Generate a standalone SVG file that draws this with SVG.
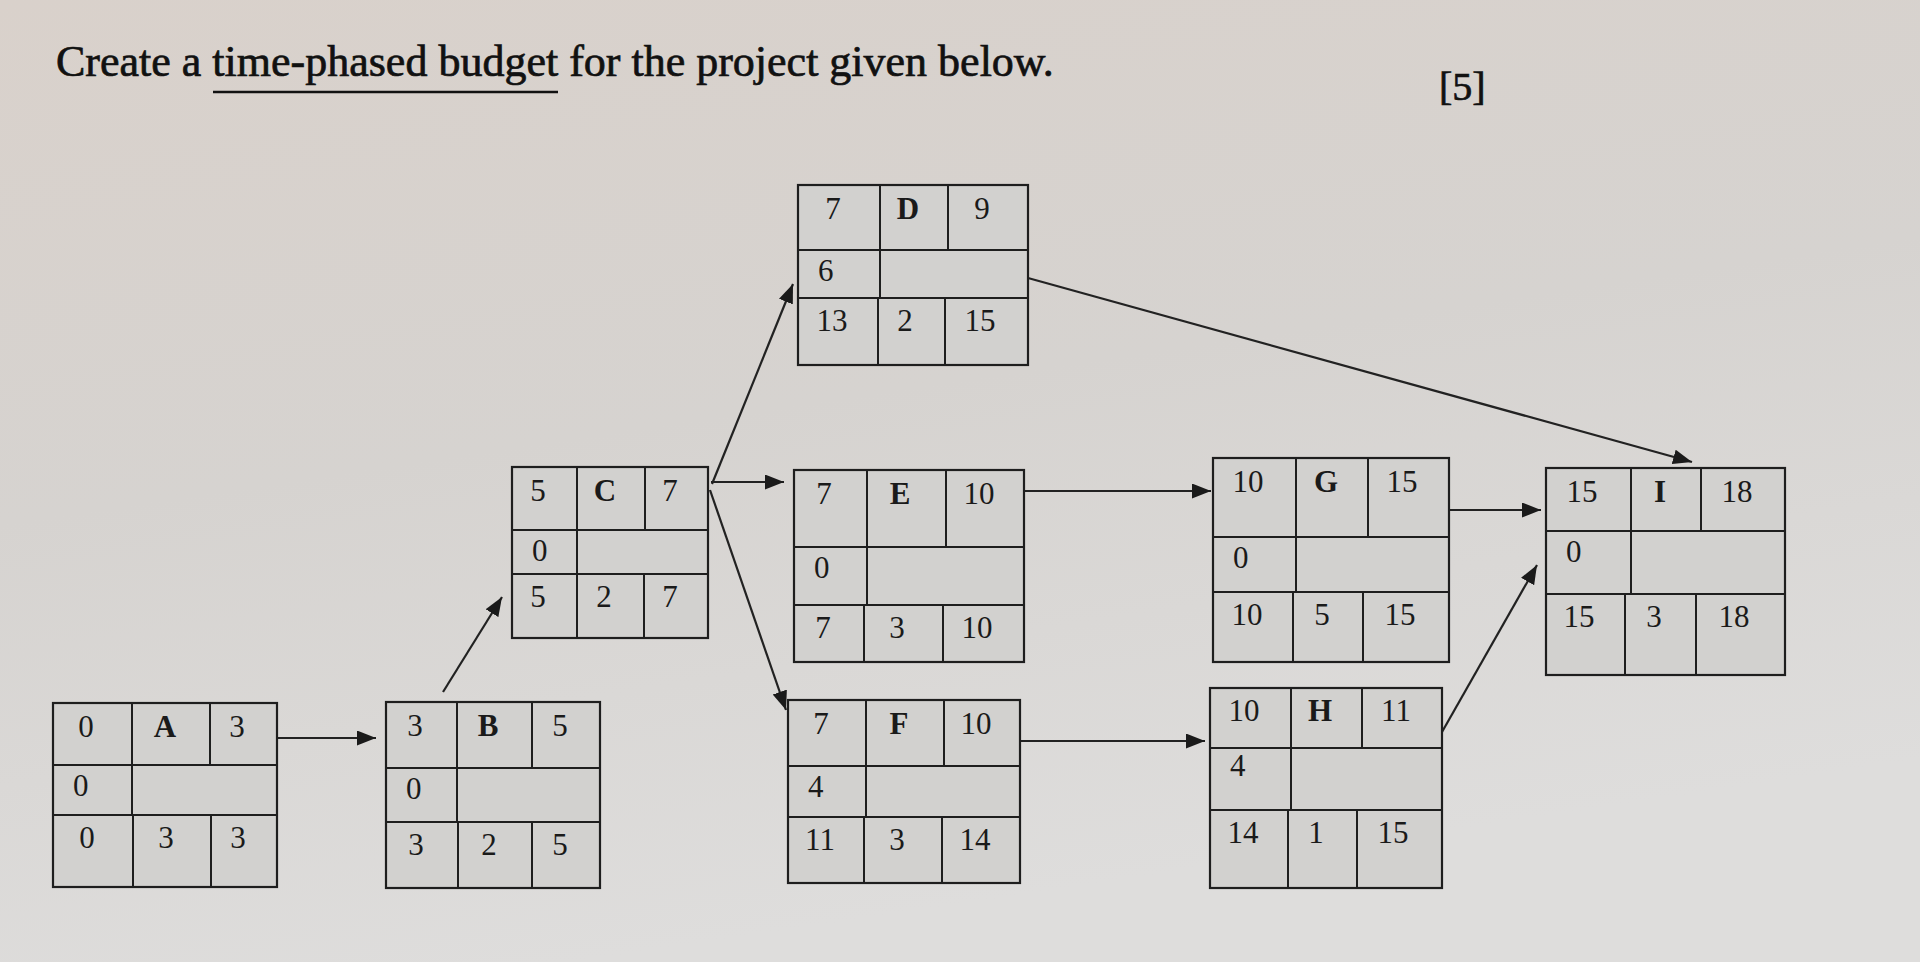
<svg xmlns="http://www.w3.org/2000/svg" width="1920" height="962" viewBox="0 0 1920 962">
<defs>
<linearGradient id="bg" x1="0" y1="0" x2="0.3" y2="1">
<stop offset="0" stop-color="#d9d1cb"/>
<stop offset="0.5" stop-color="#d6d3d0"/>
<stop offset="1" stop-color="#dedddc"/>
</linearGradient>
<marker id="ah" markerUnits="userSpaceOnUse" markerWidth="22" markerHeight="16" refX="19" refY="7.5" orient="auto">
<path d="M0,0 L19,7.5 L0,15 Z" fill="#1a1a1a"/>
</marker>
<style>
.box rect{fill:#d2d1cf;stroke:#1e1e1e;stroke-width:2.2}
.box line{stroke:#1e1e1e;stroke-width:2}
.box text{font-family:"Liberation Serif","Times New Roman",serif;font-size:31px;fill:#1a1a1a;text-anchor:middle}
.box text.l{text-anchor:start}
.box text.n{font-weight:bold}
.conn line{stroke:#222;stroke-width:2.2;marker-end:url(#ah)}
.title{font-family:"Liberation Serif","Times New Roman",serif;fill:#111;stroke:#111;stroke-width:0.7}
</style>
</defs>
<rect width="1920" height="962" fill="url(#bg)"/>
<g id="title">
<text class="title" x="56" y="76" font-size="44">Create a time-phased budget for the project given below.</text>
<line x1="213" y1="92" x2="558" y2="92" stroke="#111" stroke-width="2.5"/>
<text class="title" x="1439" y="100" font-size="40">[5]</text>
</g>
<g id="connectors" class="conn">
<line x1="277" y1="738" x2="376" y2="738"/>
<line x1="443" y1="692" x2="502" y2="597"/>
<line x1="712" y1="484" x2="793" y2="284"/>
<line x1="711" y1="482" x2="784" y2="482"/>
<line x1="710" y1="490" x2="786" y2="710"/>
<line x1="1028" y1="278" x2="1692" y2="462"/>
<line x1="1024" y1="491" x2="1211" y2="491"/>
<line x1="1020" y1="741" x2="1205" y2="741"/>
<line x1="1449" y1="510" x2="1541" y2="510"/>
<line x1="1442" y1="732" x2="1537" y2="565"/>
</g>
<g id="node-A" class="box">
<rect x="53" y="703" width="224" height="184"/>
<line x1="53" y1="765" x2="277" y2="765"/><line x1="53" y1="815" x2="277" y2="815"/>
<line x1="132" y1="703" x2="132" y2="815"/><line x1="210" y1="703" x2="210" y2="765"/>
<line x1="133" y1="815" x2="133" y2="887"/><line x1="211" y1="815" x2="211" y2="887"/>
<text x="86" y="737">0</text><text class="n" x="165" y="737">A</text><text x="237" y="737">3</text>
<text class="l" x="73" y="796">0</text>
<text x="87" y="848">0</text><text x="166" y="848">3</text><text x="238" y="848">3</text>
</g>
<g id="node-B" class="box">
<rect x="386" y="702" width="214" height="186"/>
<line x1="386" y1="768" x2="600" y2="768"/><line x1="386" y1="822" x2="600" y2="822"/>
<line x1="457" y1="702" x2="457" y2="822"/><line x1="532" y1="702" x2="532" y2="768"/>
<line x1="458" y1="822" x2="458" y2="888"/><line x1="532" y1="822" x2="532" y2="888"/>
<text x="415" y="736">3</text><text class="n" x="488" y="736">B</text><text x="560" y="736">5</text>
<text class="l" x="406" y="799">0</text>
<text x="416" y="855">3</text><text x="489" y="855">2</text><text x="560" y="855">5</text>
</g>
<g id="node-C" class="box">
<rect x="512" y="467" width="196" height="171"/>
<line x1="512" y1="530" x2="708" y2="530"/><line x1="512" y1="574" x2="708" y2="574"/>
<line x1="577" y1="467" x2="577" y2="574"/><line x1="645" y1="467" x2="645" y2="530"/>
<line x1="577" y1="574" x2="577" y2="638"/><line x1="644" y1="574" x2="644" y2="638"/>
<text x="538" y="501">5</text><text class="n" x="605" y="501">C</text><text x="670" y="501">7</text>
<text class="l" x="532" y="561">0</text>
<text x="538" y="607">5</text><text x="604" y="607">2</text><text x="670" y="607">7</text>
</g>
<g id="node-D" class="box">
<rect x="798" y="185" width="230" height="180"/>
<line x1="798" y1="250" x2="1028" y2="250"/><line x1="798" y1="298" x2="1028" y2="298"/>
<line x1="880" y1="185" x2="880" y2="298"/><line x1="948" y1="185" x2="948" y2="250"/>
<line x1="878" y1="298" x2="878" y2="365"/><line x1="945" y1="298" x2="945" y2="365"/>
<text x="833" y="219">7</text><text class="n" x="908" y="219">D</text><text x="982" y="219">9</text>
<text class="l" x="818" y="281">6</text>
<text x="832" y="331">13</text><text x="905" y="331">2</text><text x="980" y="331">15</text>
</g>
<g id="node-E" class="box">
<rect x="794" y="470" width="230" height="192"/>
<line x1="794" y1="547" x2="1024" y2="547"/><line x1="794" y1="605" x2="1024" y2="605"/>
<line x1="867" y1="470" x2="867" y2="605"/><line x1="946" y1="470" x2="946" y2="547"/>
<line x1="864" y1="605" x2="864" y2="662"/><line x1="943" y1="605" x2="943" y2="662"/>
<text x="824" y="504">7</text><text class="n" x="900" y="504">E</text><text x="979" y="504">10</text>
<text class="l" x="814" y="578">0</text>
<text x="823" y="638">7</text><text x="897" y="638">3</text><text x="977" y="638">10</text>
</g>
<g id="node-F" class="box">
<rect x="788" y="700" width="232" height="183"/>
<line x1="788" y1="766" x2="1020" y2="766"/><line x1="788" y1="817" x2="1020" y2="817"/>
<line x1="866" y1="700" x2="866" y2="817"/><line x1="944" y1="700" x2="944" y2="766"/>
<line x1="864" y1="817" x2="864" y2="883"/><line x1="942" y1="817" x2="942" y2="883"/>
<text x="821" y="734">7</text><text class="n" x="899" y="734">F</text><text x="976" y="734">10</text>
<text class="l" x="808" y="797">4</text>
<text x="820" y="850">11</text><text x="897" y="850">3</text><text x="975" y="850">14</text>
</g>
<g id="node-G" class="box">
<rect x="1213" y="458" width="236" height="204"/>
<line x1="1213" y1="537" x2="1449" y2="537"/><line x1="1213" y1="592" x2="1449" y2="592"/>
<line x1="1296" y1="458" x2="1296" y2="592"/><line x1="1368" y1="458" x2="1368" y2="537"/>
<line x1="1293" y1="592" x2="1293" y2="662"/><line x1="1363" y1="592" x2="1363" y2="662"/>
<text x="1248" y="492">10</text><text class="n" x="1326" y="492">G</text><text x="1402" y="492">15</text>
<text class="l" x="1233" y="568">0</text>
<text x="1247" y="625">10</text><text x="1322" y="625">5</text><text x="1400" y="625">15</text>
</g>
<g id="node-H" class="box">
<rect x="1210" y="688" width="232" height="200"/>
<line x1="1210" y1="748" x2="1442" y2="748"/><line x1="1210" y1="810" x2="1442" y2="810"/>
<line x1="1291" y1="688" x2="1291" y2="810"/><line x1="1362" y1="688" x2="1362" y2="748"/>
<line x1="1288" y1="810" x2="1288" y2="888"/><line x1="1357" y1="810" x2="1357" y2="888"/>
<text x="1244" y="721">10</text><text class="n" x="1320" y="721">H</text><text x="1396" y="721">11</text>
<text class="l" x="1230" y="776">4</text>
<text x="1243" y="843">14</text><text x="1316" y="843">1</text><text x="1393" y="843">15</text>
</g>
<g id="node-I" class="box">
<rect x="1546" y="468" width="239" height="207"/>
<line x1="1546" y1="531" x2="1785" y2="531"/><line x1="1546" y1="594" x2="1785" y2="594"/>
<line x1="1631" y1="468" x2="1631" y2="594"/><line x1="1701" y1="468" x2="1701" y2="531"/>
<line x1="1625" y1="594" x2="1625" y2="675"/><line x1="1696" y1="594" x2="1696" y2="675"/>
<text x="1582" y="502">15</text><text class="n" x="1660" y="502">I</text><text x="1737" y="502">18</text>
<text class="l" x="1566" y="562">0</text>
<text x="1579" y="627">15</text><text x="1654" y="627">3</text><text x="1734" y="627">18</text>
</g>
</svg>
